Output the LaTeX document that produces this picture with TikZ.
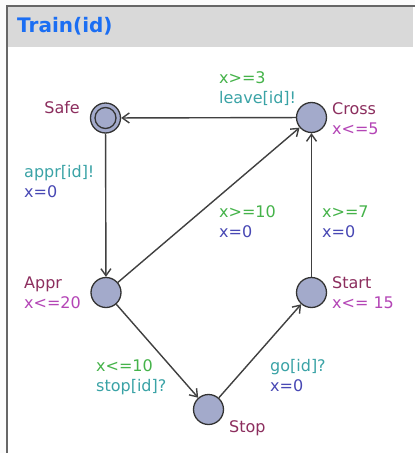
\documentclass[tikz,border=0pt]{standalone}
\usepackage{fontspec}
\setmainfont{DejaVu Sans}
\usetikzlibrary{arrows.meta}
\definecolor{locfill}{HTML}{A3AACB}
\definecolor{locname}{HTML}{8C2E5E}
\definecolor{invcol}{HTML}{B445B6}
\definecolor{guardcol}{HTML}{45B34A}
\definecolor{synccol}{HTML}{3AA3A6}
\definecolor{updcol}{HTML}{4848B4}
\definecolor{titleblue}{HTML}{1B6EF3}
\definecolor{headgray}{HTML}{D9D9D9}

\begin{document}
\begin{tikzpicture}
		[x=1pt,y=-1pt,
		font=\fontsize{16}{20}\selectfont,
		loc/.style={circle,draw=black!80,fill=locfill,line width=1.3pt,
inner sep=0pt,minimum size=30pt},
		initloc/.style={loc,path picture={\draw[black!80,line width=1.3pt]
(path picture bounding box.center) circle (10.5pt);}},
		lbl/.style={align=left,inner sep=0pt,anchor=west},
		trans/.style={-{Straight Barb[length=7pt,width=10pt]},draw=black!75,line width=1.4pt}]
		\useasboundingbox (0,0) rectangle (415,453);
		% frame
		\fill[gray!3] (0,0) rectangle (415,453);
		\fill[white] (7,7) rectangle (415,453);
		\fill[headgray] (7,7) rectangle (413,47);
		\draw[black!60,line width=2pt] (6.5,453) -- (6.5,6) -- (415,6);
		\node at (17,26) (title) [anchor=west,inner sep=0pt,text=titleblue,
font=\fontsize{20}{24}\selectfont\bfseries] {Train(id)};
		% locations
		\node at (105.5,118) (safe) [initloc] {};
		\node at (311.5,117.5) (cross) [loc] {};
		\node at (106,292.5) (appr) [loc] {};
		\node at (311.5,292.5) (start) [loc] {};
		\node at (208.5,409.5) (stop) [loc] {};
		\node at (80,108) (safename) [anchor=east,inner sep=0pt,text=locname] {Safe};
		\node at (332,119) (crossname) [lbl] {\textcolor{locname}{Cross}\\\textcolor{invcol}{x<=5}};
		\node at (24,293) (apprname) [lbl] {\textcolor{locname}{Appr}\\\textcolor{invcol}{x<=20}};
		\node at (332,293) (startname) [lbl] {\textcolor{locname}{Start}\\\textcolor{invcol}{x<= 15}};
		\node at (229,428) (stopname) [lbl,text=locname] {Stop};
		% transitions
		\path (cross) edge [trans] (safe)
			(safe) edge [trans] (appr)
			(appr) edge [trans] (cross)
			(start) edge [trans] (cross)
			(appr) edge [trans] (stop)
			(stop) edge [trans] (start);
		\node at (219,89) (leavelbl) [lbl] {\textcolor{guardcol}{x>=3}\\\textcolor{synccol}{leave[id]!}};
		\node at (24,182) (apprlbl) [lbl] {\textcolor{synccol}{appr[id]!}\\\textcolor{updcol}{x=0}};
		\node at (219,222) (crosslbl) [lbl] {\textcolor{guardcol}{x>=10}\\\textcolor{updcol}{x=0}};
		\node at (322,222) (startlbl) [lbl] {\textcolor{guardcol}{x>=7}\\\textcolor{updcol}{x=0}};
		\node at (96,377) (stoplbl) [lbl] {\textcolor{guardcol}{x<=10}\\\textcolor{synccol}{stop[id]?}};
		\node at (270,376) (golbl) [lbl] {\textcolor{synccol}{go[id]?}\\\textcolor{updcol}{x=0}};
	\end{tikzpicture}
\end{document}
